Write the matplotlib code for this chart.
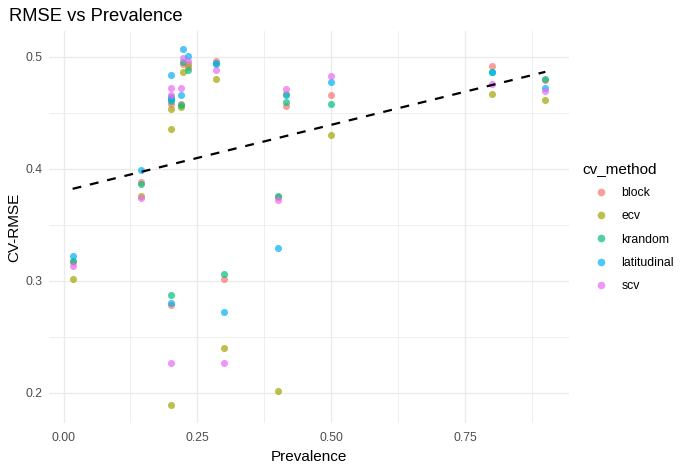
import numpy as np
import matplotlib
matplotlib.use("Agg")
import matplotlib.pyplot as plt
from matplotlib.lines import Line2D

plt.rcParams['font.family'] = ['Liberation Sans', 'DejaVu Sans']

prevalence = [0.017, 0.145, 0.2, 0.2, 0.2, 0.219, 0.2226, 0.232, 0.285,
              0.30, 0.40, 0.415, 0.50, 0.80, 0.90]
block       = [0.317, 0.388, 0.278, 0.462, 0.458, 0.458, 0.493, 0.491, 0.496,
               0.3015, 0.3747, 0.456, 0.466, 0.492, 0.479]
ecv         = [0.302, 0.376, 0.189, 0.453, 0.435, 0.4555, 0.486, 0.493, 0.480,
               0.240, 0.2015, 0.467, 0.430, 0.4667, 0.461]
krandom     = [0.318, 0.386, 0.287, 0.464, 0.460, 0.457, 0.495, 0.488, 0.493,
               0.306, 0.376, 0.4595, 0.458, 0.486, 0.480]
latitudinal = [0.322, 0.399, 0.280, 0.484, 0.462, 0.466, 0.507, 0.501, 0.494,
               0.272, 0.329, 0.4655, 0.477, 0.486, 0.472]
scv         = [0.313, 0.374, 0.227, 0.472, 0.466, 0.472, 0.499, 0.496, 0.488,
               0.2265, 0.3717, 0.471, 0.4824, 0.4756, 0.469]

methods = ["block", "ecv", "krandom", "latitudinal", "scv"]
series = [block, ecv, krandom, latitudinal, scv]
colors = ["#F8766D", "#A3A500", "#00BF7D", "#00B0F6", "#E76BF3"]

fig = plt.figure(figsize=(6.86, 4.69), dpi=100)
ax = fig.add_axes([0.0714, 0.098, 0.758, 0.836])

# points in row order (group by group)
x_all, y_all = [], []
for gi, p in enumerate(prevalence):
    for m, (vals, c) in enumerate(zip(series, colors)):
        ax.scatter([p], [vals[gi]], s=26, color=c, alpha=0.7, linewidths=0, zorder=3)
        x_all.append(p); y_all.append(vals[gi])

# linear fit
x_all = np.array(x_all); y_all = np.array(y_all)
b, a = np.polyfit(x_all, y_all, 1)
xs = np.linspace(x_all.min(), x_all.max(), 80)
ax.plot(xs, a + b * xs, color="black", lw=1.6, dashes=(4, 4), zorder=4)

ax.margins(0.05)
ax.set_xticks([0.0, 0.25, 0.5, 0.75])
ax.set_xticklabels(["0.00", "0.25", "0.50", "0.75"])
ax.set_yticks([0.2, 0.3, 0.4, 0.5])
ax.set_yticklabels(["0.2", "0.3", "0.4", "0.5"])
ax.set_xticks([0.125, 0.375, 0.625, 0.875], minor=True)
ax.set_yticks([0.25, 0.35, 0.45], minor=True)
ax.grid(which="major", color="#EBEBEB", lw=1.0, zorder=0)
ax.grid(which="minor", color="#EBEBEB", lw=0.6, zorder=0)
ax.set_axisbelow(True)
ax.tick_params(which="both", length=0, labelsize=8.8, labelcolor="#4D4D4D")
ax.tick_params(axis="x", pad=6.5)
ax.tick_params(axis="y", pad=4.5)
for s in ax.spines.values():
    s.set_visible(False)

ax.set_xlabel("Prevalence", fontsize=11, labelpad=4)
ax.set_ylabel("CV-RMSE", fontsize=11, labelpad=3)
ax.set_title("RMSE vs Prevalence", fontsize=13.2, loc="left", pad=7, x=-0.077)

handles = [Line2D([], [], marker="o", linestyle="none", markersize=5.5,
                  markerfacecolor=c, markeredgewidth=0, alpha=0.7) for c in colors]
leg = fig.legend(handles, methods, title="cv_method", loc="upper left",
                 bbox_to_anchor=(0.842, 0.666), frameon=False, fontsize=8.8,
                 title_fontsize=11, labelspacing=0.93, handlelength=3.1,
                 handletextpad=0.1, borderaxespad=0)
leg._legend_box.align = "left"

fig.savefig("out.png", dpi=100)
